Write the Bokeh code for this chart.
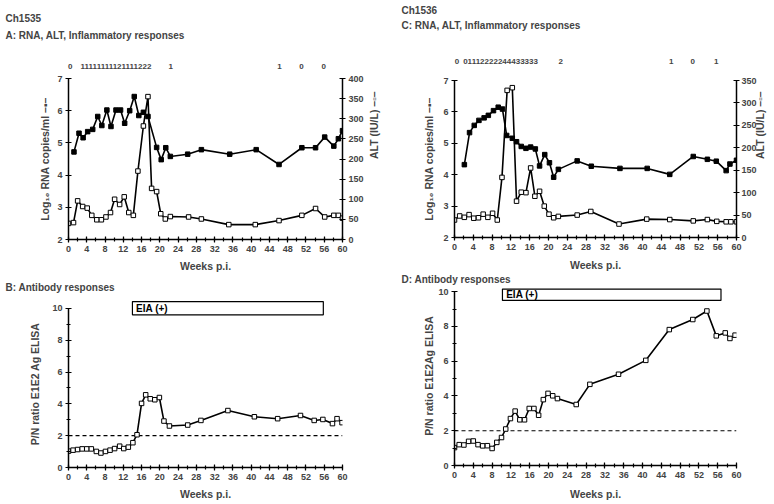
import math
from bokeh.plotting import figure
from bokeh.models import Range1d, LinearAxis, Title, FixedTicker
from bokeh.layouts import row, column
from bokeh.embed import file_html
from bokeh.resources import INLINE

FONT = "Liberation Sans"

# ---------------- data ----------------
week_ticks = [0, 4, 8, 12, 16, 20, 24, 28, 32, 36, 40, 44, 48, 52, 56, 60]

# Panel A (Ch1535)
a_rna_wk = [1.2, 2.3, 3.2, 4.2, 5.3, 6.4, 7.3, 8.4, 9.3, 10.4, 11.4, 12.3, 13.4, 14.4, 15.4, 16.4, 17.4,
            19.3, 20.3, 21.3, 22.3, 26.1, 29.1, 35.3, 41.1, 46.1, 51.1, 54.1, 56.1, 58.1, 59.1, 60]
a_rna = [4.72, 5.30, 5.16, 5.35, 5.42, 5.82, 5.54, 6.02, 5.51, 6.02, 6.02, 5.61, 6.0, 6.44, 5.85, 5.95, 5.82,
         4.86, 4.48, 4.85, 4.58, 4.65, 4.79, 4.65, 4.79, 4.33, 4.85, 4.85, 5.18, 4.90, 5.13, 5.38]
a_alt_wk = [0, 1.1, 2.0, 3.1, 4.1, 5.1, 6.2, 7.2, 8.2, 9.2, 10.1, 11.2, 12.2, 13.2, 14.2, 15.2, 16.4, 17.4,
            18.2, 19.3, 20.2, 21.2, 22.3, 26.3, 29.1, 35.1, 40.9, 46.1, 51.1, 54.1, 56.1, 58.1, 59.1, 60]
a_alt = [40, 42, 96, 82, 78, 60, 49, 49, 56, 67, 100, 87, 106, 67, 60, 170, 282, 355,
         127, 119, 64, 51, 57, 56, 51, 37, 37, 47, 60, 77, 56, 60, 60, 53]
a_score_wk = [0.4, 10.4, 22.4, 46.2, 51.0, 55.9]
a_score_txt = ["0", "11111111121111222", "1", "1", "0", "0"]

# Panel B (Ch1535 antibody)
b_wk = [0, 1, 2, 3, 4, 5, 6.1, 7.1, 8.1, 9.1, 10.1, 11.2, 12.1, 13.1, 14.1, 15, 16, 16.9, 17.9, 18.9, 19.9,
        20.9, 22.1, 26.1, 29, 34.9, 40.7, 45.8, 50.8, 53.8, 55.7, 57.8, 58.8, 59.9]
b_pn = [1.03, 1.09, 1.13, 1.17, 1.17, 1.17, 1.01, 0.91, 1.01, 1.09, 1.19, 1.34, 1.19, 1.28, 1.56, 2.06, 4.03,
        4.57, 4.32, 4.26, 4.40, 2.92, 2.61, 2.67, 2.96, 3.58, 3.19, 3.07, 3.27, 2.96, 3.02, 2.76, 3.07, 2.82]
b_eia_wk = [14.0, 55.8]
b_eia_pn = [9.6, 10.43]

# Panel C (Ch1536)
c_rna_wk = [2.1, 3.2, 4.2, 5.2, 6.3, 7.2, 8.3, 9.3, 10.2, 11.1, 12.3, 13.2, 14.2, 15.2, 16.2, 17.2, 18.1,
            19.2, 20.2, 21.1, 22.1, 26.1, 29.1, 35.2, 41.0, 45.8, 50.8, 53.8, 55.7, 57.8, 58.6, 60]
c_rna = [4.32, 5.34, 5.57, 5.73, 5.81, 5.89, 6.04, 6.15, 6.09, 5.25, 5.16, 5.05, 4.90, 4.84, 4.88, 4.82, 4.28,
         4.64, 4.38, 3.92, 4.17, 4.44, 4.27, 4.20, 4.20, 4.01, 4.58, 4.49, 4.43, 4.13, 4.34, 4.46]
c_alt_wk = [0, 1.1, 2.1, 3.1, 4.1, 5.1, 6.1, 7.1, 8.1, 9.1, 10.1, 11.2, 12.3, 13.2, 14.2, 15.2, 16.2, 17.1,
            18.1, 19.1, 20.1, 21.1, 22.1, 26.1, 29.0, 35.0, 40.9, 45.8, 50.8, 53.8, 55.8, 57.8, 58.8, 60]
c_alt = [39, 48, 45, 51, 43, 44, 52, 45, 54, 39, 134, 328, 334, 81, 101, 100, 155, 92,
         103, 70, 52, 44, 47, 50, 58, 30, 41, 40, 37, 40, 36, 35, 35, 35]
c_score_wk = [0.5, 9.8, 22.6, 46.1, 50.7, 55.7]
c_score_txt = ["0", "01112222244433333", "2", "1", "0", "1"]

# Panel D (Ch1536 antibody)
d_wk = [0, 1, 2, 3, 4, 5, 6, 7, 8, 9, 10, 10.9, 11.9, 12.9, 13.9, 14.9, 15.9, 16.9, 17.9, 18.9, 19.9,
        20.9, 21.9, 25.9, 28.8, 34.9, 40.7, 45.7, 50.7, 53.7, 55.7, 57.6, 58.6, 59.7]
d_pn = [1.03, 1.20, 1.18, 1.39, 1.41, 1.20, 1.13, 1.14, 0.98, 1.33, 1.61, 2.10, 2.70, 3.13, 2.63, 2.63, 3.28,
        3.28, 2.89, 3.79, 4.15, 4.01, 3.85, 3.51, 4.67, 5.25, 6.05, 7.82, 8.40, 8.89, 7.46, 7.63, 7.31, 7.50]
d_eia_wk = [10.2, 56.7]
d_eia_pn = [9.5, 10.15]


def base_fig(w, h, bl, br, bt, bb, yr):
    p = figure(width=w, height=h, x_range=Range1d(0, 60), y_range=Range1d(*yr),
               output_backend="svg", toolbar_location=None, min_border_left=bl,
               min_border_right=br, min_border_top=bt, min_border_bottom=bb)
    p.outline_line_color = None
    p.xgrid.visible = False
    p.ygrid.visible = False
    p.background_fill_color = "white"
    p.border_fill_color = "white"
    return p


def style_axis(ax, size="9px"):
    ax.axis_line_width = 1.5
    ax.major_tick_line_width = 1.2
    ax.minor_tick_line_width = 1.2
    ax.major_tick_in = 3
    ax.major_tick_out = 3
    ax.minor_tick_in = 2
    ax.minor_tick_out = 2
    ax.major_label_text_font = FONT
    ax.major_label_text_font_style = "bold"
    ax.major_label_text_font_size = size
    ax.major_label_standoff = 3
    ax.axis_label_text_font = FONT
    ax.axis_label_text_font_style = "bold"
    ax.axis_label_text_font_size = "10.5px"


def weeks_axis(p, standoff):
    ax = p.xaxis[0]
    ax.ticker = FixedTicker(ticks=week_ticks, minor_ticks=list(range(0, 61, 2)))
    style_axis(ax)
    ax.axis_label = "Weeks p.i."
    ax.axis_label_standoff = standoff


def add_title(p, text, offset, standoff, valign, place="above"):
    p.add_layout(Title(text=text, align="left", offset=offset, standoff=standoff,
                       vertical_align=valign, text_font=FONT, text_font_style="bold",
                       text_font_size="10px"), place)


def add_spacer(p, standoff):
    # white (invisible) title used only as vertical space between the score row and the panel title
    p.add_layout(Title(text=".", standoff=standoff, text_font_size="2px", text_color="white"), "above")


def score_axis(p, wks, txts, standoff):
    ax = LinearAxis()
    ax.ticker = FixedTicker(ticks=wks)
    ax.major_label_overrides = {w: t for w, t in zip(wks, txts)}
    ax.axis_line_color = None
    ax.major_tick_line_color = None
    ax.minor_tick_line_color = None
    ax.major_tick_in = 0
    ax.major_tick_out = 0
    ax.major_label_standoff = standoff
    ax.major_label_text_font = FONT
    ax.major_label_text_font_style = "bold"
    ax.major_label_text_font_size = "8px"
    p.add_layout(ax, "above")


def rna_alt_panel(w, h, bl, br, bt, bb, alt_max, rna_wk, rna, alt_wk, alt, score_wk, score_txt,
                  head, title, title_off, sc_stand, sp_stand, t1_stand, t2_stand,
                  lstand, rstand, rlab, wstand):
    p = base_fig(w, h, bl, br, bt, bb, (2, 7))
    p.extra_y_ranges = {"alt": Range1d(0, alt_max)}
    weeks_axis(p, wstand)
    ly = p.yaxis[0]
    ly.ticker = FixedTicker(ticks=[2, 3, 4, 5, 6, 7])
    style_axis(ly)
    ly.axis_label = "Log\u2081\u2080 RNA copies/ml \u2013\u25aa\u2013"
    ly.axis_label_standoff = lstand
    ry = LinearAxis(y_range_name="alt")
    ry.ticker = FixedTicker(ticks=list(range(0, alt_max + 1, 50)))
    style_axis(ry)
    ry.major_label_standoff = rlab
    ry.axis_label = "ALT (IU/L) \u2013\u25ab\u2013"
    ry.axis_label_standoff = rstand
    try:
        ry.axis_label_orientation = math.pi / 2
    except Exception:
        pass
    p.add_layout(ry, "right")

    score_axis(p, score_wk, score_txt, sc_stand)
    add_spacer(p, sp_stand)
    add_title(p, title, title_off, t1_stand, "top")
    add_title(p, head, title_off, t2_stand, "top")

    p.line(rna_wk, rna, line_color="black", line_width=1.6)
    p.scatter(rna_wk, rna, marker="square", size=4.5, fill_color="black", line_color="black")
    p.line(alt_wk, alt, line_color="black", line_width=1.6, y_range_name="alt")
    p.scatter(alt_wk, alt, marker="square", size=4.5, fill_color="white", line_color="black",
              line_width=1, y_range_name="alt")
    return p


def ab_panel(w, h, bl, br, bt, bb, ytop, wk, pn, eia_wk, eia_pn, ylabel, lstand, wstand):
    p = base_fig(w, h, bl, br, bt, bb, (0, ytop))
    weeks_axis(p, wstand)
    ly = p.yaxis[0]
    ly.ticker = FixedTicker(ticks=[0, 2, 4, 6, 8, 10], minor_ticks=list(range(0, 11)))
    ly.bounds = (0, 10)
    style_axis(ly)
    ly.axis_label = ylabel
    ly.axis_label_standoff = lstand
    p.line([0, 60], [2, 2], line_color="black", line_width=1.2, line_dash="4 3")
    p.line(wk, pn, line_color="black", line_width=1.6)
    p.scatter(wk, pn, marker="square", size=4.5, fill_color="white", line_color="black", line_width=1)
    p.quad(left=[eia_wk[0]], right=[eia_wk[1]], bottom=[eia_pn[0]], top=[eia_pn[1]],
           fill_color="white", line_color="black", line_width=1.2)
    p.text(x=[eia_wk[0] + 0.8], y=[(eia_pn[0] + eia_pn[1]) / 2], text=["EIA (+)"],
           text_font={"value": FONT}, text_font_style="bold", text_font_size="10px",
           text_baseline="middle", text_align="left")
    return p


pA = rna_alt_panel(389, 274, 68, 47, 78, 34, 400, a_rna_wk, a_rna, a_alt_wk, a_alt, a_score_wk,
                   a_score_txt, "Ch1535", "A: RNA, ALT, Inflammatory responses", -63,
                   10, 15, 0, 8, 3, 7, 3, 5)
pB = ab_panel(389, 228, 68, 47, 26, 33, 10.5, b_wk, b_pn, b_eia_wk, b_eia_pn,
              "P/N ratio E1E2 Ag ELISA", 8, 5)
add_title(pB, "B: Antibody responses", -63, 11, "top")

pC = rna_alt_panel(385, 286, 65, 38, 80, 46, 350, c_rna_wk, c_rna, c_alt_wk, c_alt, c_score_wk,
                   c_score_txt, "Ch1536", "C: RNA, ALT, Inflammatory responses", -53,
                   17, 18, 4, 0, 5, 0, 2, 6)
add_title(pC, "D: Antibody responses", -53, 0, "top", place="below")
pD = ab_panel(385, 216, 65, 38, 0, 35, 10.3, d_wk, d_pn, d_eia_wk, d_eia_pn,
              "P/N ratio E1E2Ag ELISA", 0, 7)

layout = row(column(pA, pB), column(pC, pD))
open("out.html", "w").write(file_html(layout, INLINE))
